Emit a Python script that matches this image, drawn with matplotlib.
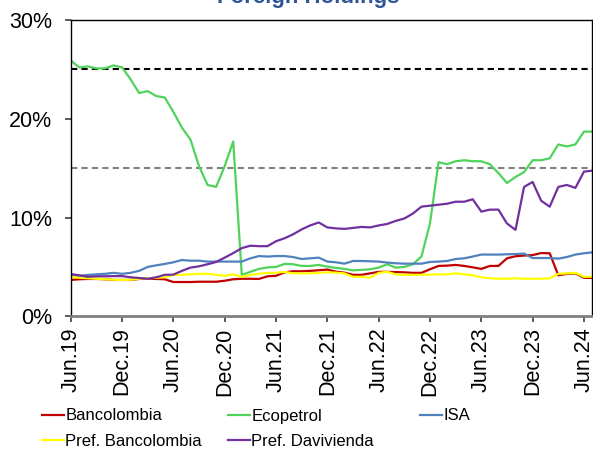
import numpy as np
import pandas as pd
import matplotlib
matplotlib.use('Agg')
import matplotlib.pyplot as plt
from matplotlib.lines import Line2D

plt.rcParams['font.family'] = ['Liberation Sans', 'DejaVu Sans']

# Monthly foreign holdings (%), Jun.19 - Jul.24
months = pd.date_range('2019-06-01', '2024-07-01', freq='MS')
tick_labels = ['Jun.19', 'Dec.19', 'Jun.20', 'Dec.20', 'Jun.21', 'Dec.21',
               'Jun.22', 'Dec.22', 'Jun.23', 'Dec.23', 'Jun.24']

bancolombia = [3.68, 3.75, 3.78, 3.78, 3.75, 3.68, 3.68, 3.68, 3.78, 3.8,
               3.78, 3.75, 3.47, 3.47, 3.47, 3.5, 3.5, 3.5, 3.6, 3.75,
               3.8, 3.8, 3.78, 4.05, 4.1, 4.45, 4.56, 4.56, 4.6, 4.66,
               4.73, 4.52, 4.42, 4.2, 4.2, 4.35, 4.5, 4.5, 4.48, 4.45,
               4.4, 4.4, 4.76, 5.1, 5.13, 5.2, 5.1, 4.96, 4.8, 5.1,
               5.1, 5.87, 6.08, 6.15, 6.2, 6.4, 6.38, 4.15, 4.3, 4.35,
               3.9, 3.88]
ecopetrol = [25.9, 25.2, 25.3, 25.1, 25.1, 25.4, 25.2, 24.0, 22.6, 22.8,
             22.3, 22.15, 20.7, 19.1, 17.9, 15.2, 13.3, 13.1, 15.2, 17.7,
             4.2, 4.5, 4.8, 4.95, 5.0, 5.3, 5.27, 5.1, 5.1, 5.2,
             5.03, 4.9, 4.8, 4.65, 4.7, 4.76, 4.93, 5.27, 4.93, 5.0,
             5.27, 6.05, 9.4, 15.6, 15.4, 15.7, 15.8, 15.7, 15.7, 15.4,
             14.5, 13.5, 14.1, 14.6, 15.8, 15.8, 16.0, 17.4, 17.2, 17.4,
             18.7, 18.7]
isa = [4.1, 4.08, 4.19, 4.25, 4.3, 4.4, 4.3, 4.4, 4.6, 5.0,
       5.16, 5.3, 5.47, 5.7, 5.63, 5.63, 5.54, 5.54, 5.54, 5.54,
       5.54, 5.87, 6.1, 6.05, 6.1, 6.1, 6.0, 5.8, 5.87, 5.94,
       5.54, 5.47, 5.33, 5.6, 5.6, 5.57, 5.54, 5.44, 5.37, 5.33,
       5.33, 5.33, 5.5, 5.54, 5.6, 5.8, 5.87, 6.05, 6.25, 6.25,
       6.25, 6.28, 6.3, 6.35, 5.9, 5.9, 5.9, 5.84, 6.0, 6.25,
       6.38, 6.48]
pref_bancolombia = [4.0, 3.9, 3.85, 3.8, 3.75, 3.7, 3.68, 3.7, 3.8, 3.85,
                    3.9, 3.95, 4.2, 4.2, 4.25, 4.3, 4.3, 4.2, 4.1, 4.25,
                    4.0, 4.18, 4.3, 4.4, 4.4, 4.5, 4.35, 4.35, 4.35, 4.4,
                    4.45, 4.42, 4.35, 4.0, 4.0, 3.9, 4.4, 4.5, 4.25, 4.2,
                    4.2, 4.2, 4.22, 4.25, 4.25, 4.35, 4.25, 4.15, 3.95, 3.85,
                    3.8, 3.8, 3.85, 3.8, 3.8, 3.8, 3.85, 4.3, 4.35, 4.4,
                    4.0, 4.0]
pref_davivienda = [4.28, 4.15, 4.0, 4.05, 4.05, 4.07, 4.07, 3.95, 3.88, 3.8,
                   3.95, 4.2, 4.22, 4.6, 4.93, 5.06, 5.27, 5.5, 5.94, 6.4,
                   6.9, 7.15, 7.1, 7.1, 7.6, 7.9, 8.3, 8.8, 9.2, 9.5,
                   9.0, 8.9, 8.85, 8.95, 9.05, 9.0, 9.2, 9.35, 9.66, 9.9,
                   10.4, 11.1, 11.2, 11.3, 11.4, 11.6, 11.6, 11.85, 10.6, 10.8,
                   10.8, 9.4, 8.75, 13.1, 13.6, 11.7, 11.1, 13.1, 13.3, 13.0,
                   14.65, 14.75]

series = [
    ('Bancolombia', bancolombia, '#C00000'),
    ('Ecopetrol', ecopetrol, '#4FD35A'),
    ('ISA', isa, '#4F81BD'),
    ('Pref. Bancolombia', pref_bancolombia, '#FFFF00'),
    ('Pref. Davivienda', pref_davivienda, '#7030A0'),
]

x = np.arange(len(months))

fig = plt.figure(figsize=(5.93, 4.49), dpi=100)
ax = fig.add_axes([70.7 / 593, 1 - 316.3 / 449, (592.5 - 70.7) / 593, (316.3 - 20) / 449])

ax.axhline(25, color='black', lw=1.5, ls=(0, (3, 2)), zorder=1)
ax.axhline(15, color='#808080', lw=1.5, ls=(0, (3, 2)), zorder=1)

for name, vals, col in series:
    ax.plot(x, vals, color=col, lw=1.6, label=name, zorder=2)

ax.set_xlim(0, len(months) - 1)
ax.set_ylim(0, 30)
ax.set_yticks([0, 10, 20, 30])
ax.set_yticklabels(['0%', '10%', '20%', '30%'])
ax.set_xticks(np.arange(0, len(months), 6))
ax.set_xticklabels(tick_labels, rotation=90)
ax.tick_params(axis='both', labelsize=15.5, length=4.5, width=1.2, color='#404040',
               direction='out')
ax.tick_params(axis='y', pad=9)
ax.tick_params(axis='x', pad=3.5)

for s in ['top', 'right', 'left']:
    ax.spines[s].set_color('black')
    ax.spines[s].set_linewidth(1.0)
ax.spines['bottom'].set_color('#808080')
ax.spines['bottom'].set_linewidth(2.0)

fig.text(308 / 593, 1 - 2.5 / 449, 'Foreign Holdings', ha='center', va='baseline',
         fontsize=16, fontweight='bold', color='#2F5597')

# legend in fixed columns
cols = [(42, [0, 3]), (228, [1, 4]), (420, [2])]
for xpos, idx in cols:
    handles = [Line2D([], [], color=series[i][2], lw=1.6) for i in idx]
    labels = [series[i][0] for i in idx]
    fig.legend(handles, labels, loc='upper left',
               bbox_to_anchor=(xpos / 593, 1 - 408.5 / 449), frameon=False,
               fontsize=12, handlelength=1.3, handletextpad=0.1,
               borderaxespad=0, borderpad=0, labelspacing=0.6)

fig.savefig('out.png', dpi=100)
